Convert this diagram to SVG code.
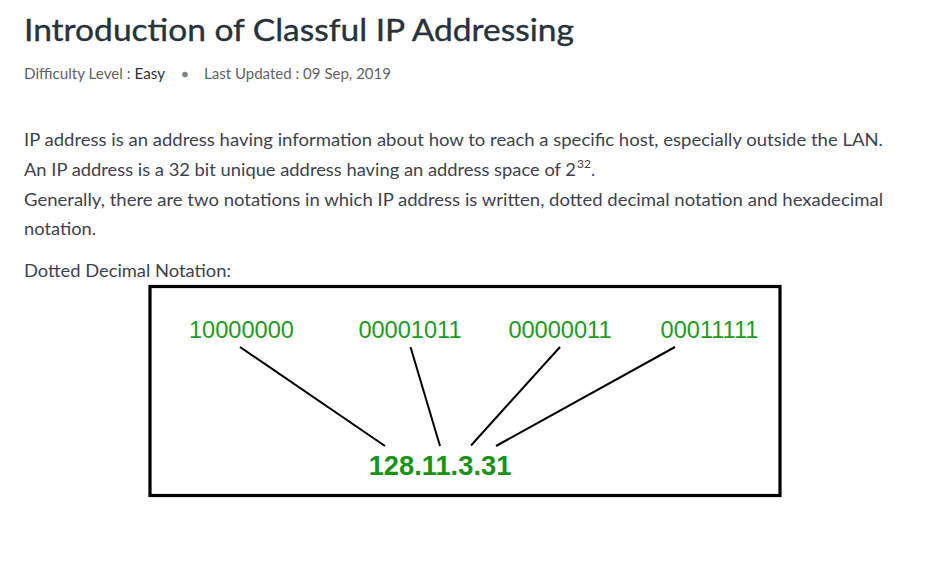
<svg xmlns="http://www.w3.org/2000/svg" width="939" height="564" viewBox="0 0 939 564">
<style>
.title{font-family:Lato,"Noto Sans",sans-serif;font-size:30px;fill:#273239;stroke:#273239;stroke-width:0.35px;}
.meta{font-family:Lato,"Noto Sans",sans-serif;font-size:14.5px;fill:#5f6368;}
.body{font-family:Lato,"Noto Sans",sans-serif;font-size:17.5px;fill:#40424e;}
.bin{font-family:"Liberation Sans",Arial,sans-serif;font-size:23.6px;fill:#1e9b1e;text-anchor:middle;}
.dec{font-family:"Liberation Sans",Arial,sans-serif;font-size:27.3px;font-weight:bold;fill:#179317;text-anchor:middle;}
.conn line{stroke:#000;stroke-width:2;stroke-linecap:butt;}
</style>
<rect width="939" height="564" fill="#fff"/>
<g id="header">
<text class="title" x="24" y="41" textLength="550" lengthAdjust="spacingAndGlyphs">Introduction of Classful IP Addressing</text>
<text class="meta" x="24" y="79" textLength="141" lengthAdjust="spacingAndGlyphs">Difficulty Level : <tspan fill="#273239">Easy</tspan></text>
<circle cx="185" cy="74.5" r="2.8" fill="#7d8288"/>
<text class="meta" x="204" y="79" textLength="187" lengthAdjust="spacingAndGlyphs">Last Updated : 09 Sep, 2019</text>
</g>
<g id="paragraph">
<text class="body" x="24" y="145.5" textLength="859" lengthAdjust="spacingAndGlyphs">IP address is an address having information about how to reach a specific host, especially outside the LAN.</text>
<text class="body" x="24" y="175.5"><tspan textLength="552" lengthAdjust="spacingAndGlyphs">An IP address is a 32 bit unique address having an address space of 2</tspan><tspan font-size="12" dy="-8" dx="1">32</tspan><tspan dy="8">.</tspan></text>
<text class="body" x="24" y="205.5" textLength="859" lengthAdjust="spacingAndGlyphs">Generally, there are two notations in which IP address is written, dotted decimal notation and hexadecimal</text>
<text class="body" x="24" y="235" textLength="72" lengthAdjust="spacingAndGlyphs">notation.</text>
<text class="body" x="24" y="277" textLength="207" lengthAdjust="spacingAndGlyphs">Dotted Decimal Notation:</text>
</g>
<g id="frame">
<rect x="150" y="286.5" width="630" height="209" fill="none" stroke="#000" stroke-width="3.2"/>
</g>
<g id="node-b1"><text class="bin" x="241.5" y="338">10000000</text></g>
<g id="node-b2"><text class="bin" x="410" y="338">00001011</text></g>
<g id="node-b3"><text class="bin" x="560" y="338">00000011</text></g>
<g id="node-b4"><text class="bin" x="709.5" y="338">00011111</text></g>
<g id="node-dec"><text class="dec" x="440" y="474.5">128.11.3.31</text></g>
<g id="connectors" class="conn">
<line x1="240" y1="347" x2="385" y2="446"/>
<line x1="410.5" y1="347" x2="440" y2="446"/>
<line x1="560" y1="347" x2="471" y2="445.5"/>
<line x1="675" y1="347" x2="496" y2="446"/>
</g>
</svg>
